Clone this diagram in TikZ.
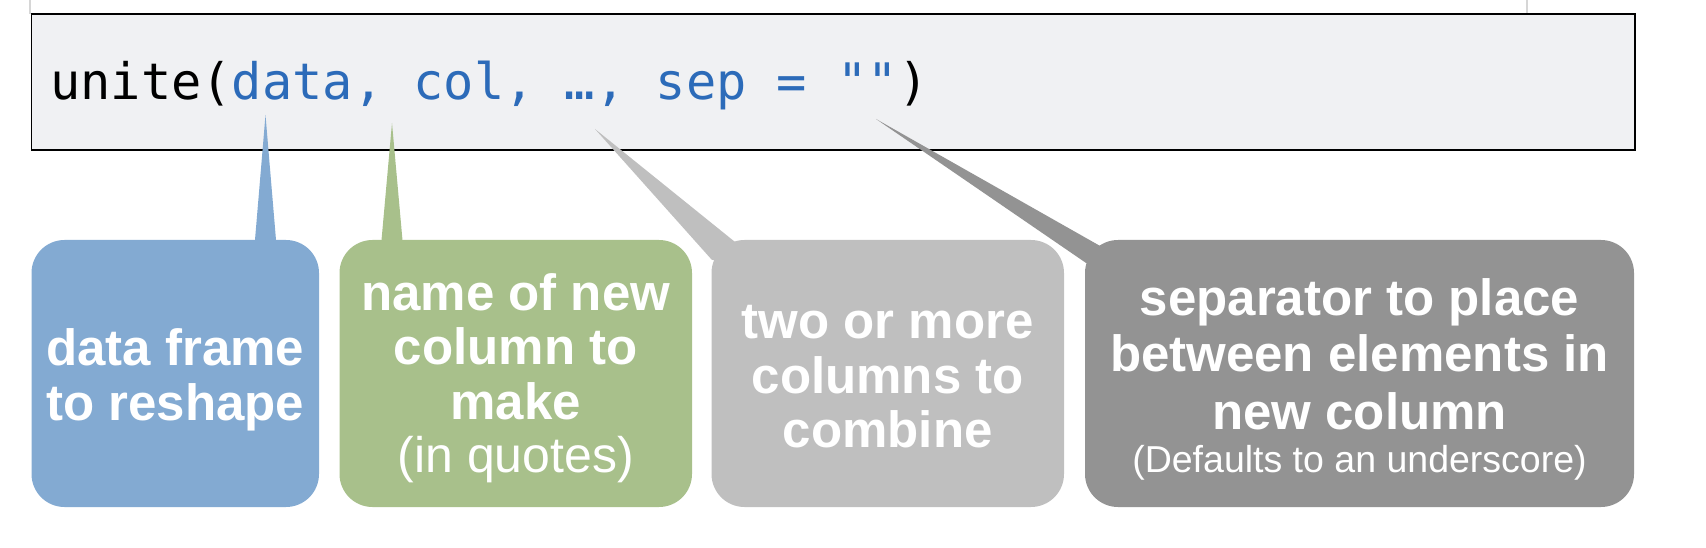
\documentclass[tikz,border=0pt]{standalone}
\usepackage{fontspec}
\setmainfont{Liberation Sans}
\newfontfamily\codefont{DejaVu Sans Mono}
\usetikzlibrary{calc}
\definecolor{codebg}{HTML}{F0F1F3}
\definecolor{codeblue}{HTML}{2C6BB9}
\definecolor{bluebox}{HTML}{83AAD2}
\definecolor{greenbox}{HTML}{A8C08B}
\definecolor{lgraybox}{HTML}{BFBFBF}
\definecolor{dgraybox}{HTML}{939393}
\definecolor{rulegray}{HTML}{D6D6D6}
\tikzset{
  callbox/.style={rectangle, rounded corners=33pt, draw=none, inner sep=0pt, minimum height=267pt},
  boldline/.style={anchor=base, inner sep=0pt, text=white, font=\fontsize{51}{54}\selectfont\bfseries},
  plainline/.style={anchor=base, inner sep=0pt, text=white, font=\fontsize{50}{54}\selectfont},
  smallline/.style={anchor=base, inner sep=0pt, text=white, font=\fontsize{37.5}{40}\selectfont},
}
\begin{document}
\begin{tikzpicture}[x=1pt,y=-1pt]
\useasboundingbox (0,0) rectangle (1706,548);
% faint rules above the code box
\draw[rulegray, line width=2pt] (30,0) -- (30,14);
\draw[rulegray, line width=2pt] (1527,0) -- (1527,14);
% code box
\node[rectangle, draw=black, line width=1.3pt, fill=codebg, inner sep=0pt,
      minimum width=1603.5pt, minimum height=136pt] (code) at (833.25,82) {};
\node[anchor=base west, inner sep=0pt, font=\codefont\fontsize{50.3}{55}\selectfont] (codetext) at (50,100)
  {unite(\textcolor{codeblue}{data, col, …, sep = ""})};
% boxes
\node[callbox, fill=bluebox, minimum width=287.5pt] (b1) at (175.25,373.5) {};
\node[callbox, fill=greenbox, minimum width=352.5pt] (b2) at (515.75,373.5) {};
\node[callbox, fill=lgraybox, minimum width=352.5pt] (b3) at (887.75,373.5) {};
\node[callbox, fill=dgraybox, minimum width=549pt] (b4) at (1359.5,373.5) {};
% tail tips
\coordinate (t1) at (265.5,115);
\coordinate (t2) at (392,123);
\coordinate (t3) at (595,129);
\coordinate (t4) at (876,119);
% tails
\fill[bluebox] (t1) -- ($(t1 |- b1.north)+(-11,6)$) -- ($(t1 |- b1.north)+(11,6)$) -- cycle;
\fill[greenbox] (t2) -- ($(t2 |- b2.north)+(-11,6)$) -- ($(t2 |- b2.north)+(11,6)$) -- cycle;
\fill[lgraybox] (t3) -- ($(b3.north west)+(23.5,2)$) -- ($(b3.north west)+(25,25)$) -- ($(b3.north west)+(0.5,20)$) -- cycle;
\fill[dgraybox] (t4) -- ($(b4.north west)+(15,6)$) -- ($(b4.north west)+(22,25)$) -- ($(b4.north west)+(1,23)$) -- cycle;
% texts
\node[boldline] (l11) at (175.25,365) {data frame};
\node[boldline] (l12) at (175.25,420) {to reshape};
\node[boldline] (l21) at (515.75,310) {name of new};
\node[boldline] (l22) at (515.75,364) {column to};
\node[boldline] (l23) at (515.75,419) {make};
\node[plainline] (l24) at (515.75,472) {(in quotes)};
\node[boldline] (l31) at (887.75,338) {two or more};
\node[boldline] (l32) at (887.75,393) {columns to};
\node[boldline] (l33) at (887.75,447) {combine};
\node[boldline] (l41) at (1359.5,316) {separator to place};
\node[boldline] (l42) at (1359.5,371) {between elements in};
\node[boldline] (l43) at (1359.5,429) {new column};
\node[smallline] (l44) at (1359.5,472) {(Defaults to an underscore)};
\end{tikzpicture}
\end{document}
